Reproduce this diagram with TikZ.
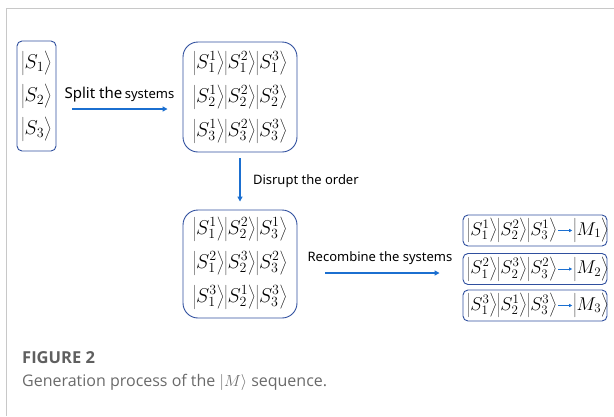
\documentclass[tikz,border=0pt]{standalone}
\usepackage{fix-cm}
\usepackage{fontspec}
\setmainfont{Noto Sans}
\newfontfamily\capfont{Open Sans}
\usetikzlibrary{arrows.meta}

\definecolor{boxblue}{HTML}{2F4F9E}
\definecolor{arrowblue}{HTML}{1B6FD0}
\definecolor{framegray}{HTML}{C8C8C8}
\definecolor{capgray}{HTML}{6A6A6A}

% ket with a fixed bracket height, set as an ordinary atom
\newcommand{\qket}[1]{{\left|\vphantom{S_1^1}#1\right\rangle}}

\tikzset{
  statebox/.style={draw=boxblue, line width=0.9pt, rounded corners=#1, inner sep=0pt},
  ketrow/.style={inner sep=0pt, font=\fontsize{20}{24}\selectfont},
  smallket/.style={inner sep=0pt, font=\fontsize{18.5}{22}\selectfont},
  flow/.style={arrowblue, line width=1.4pt, -{Triangle[length=5pt,width=5pt]}},
  inflow/.style={arrowblue, line width=0.6pt, -{Triangle[length=3pt,width=3pt]}},
  steplabel/.style={font=\fontsize{13}{15}\selectfont, text=black},
}

\begin{document}
\begin{tikzpicture}[x=1pt,y=-1pt]
\useasboundingbox (0,0) rectangle (614,416);
\draw[framegray, line width=1pt] (614,8) -- (6,8) -- (6,416);

% the three systems
\node[statebox=5pt, minimum width=39pt, minimum height=110pt] (A) at (36.5,96) {};
\foreach \i/\y in {1/63,2/96,3/129}
  \node[ketrow] (a\i) at (36.5,\y) {$\qket{S_{\i}}$};

% split into particles
\node[statebox=15pt, minimum width=114pt, minimum height=110pt] (B) at (240,97) {};
\foreach \i/\y in {1/63,2/97,3/131}
  \node[ketrow] (b\i) at (240,\y) {$\qket{S_{\i}^1}\qket{S_{\i}^2}\qket{S_{\i}^3}$};

% shuffled particles
\node[statebox=15pt, minimum width=114pt, minimum height=108pt] (C) at (240,264) {};
\foreach \i/\y/\p/\q/\r in {1/229/1/2/1, 2/263/2/3/2, 3/297/3/1/3}
  \node[ketrow] (c\i) at (240,\y) {$\qket{S_1^{\p}}\qket{S_2^{\q}}\qket{S_3^{\r}}$};

% recombined sequences
\foreach \i/\y/\p/\q/\r in {1/230.5/1/2/1, 2/269/2/3/2, 3/305.5/3/1/3}{
  \node[statebox=5pt, minimum width=144pt, minimum height=31pt] (R\i) at (535,\y) {};
  \node[smallket] (k\i) at (512,\y) {$\qket{S_1^{\p}}\qket{S_2^{\q}}\qket{S_3^{\r}}$};
  \node[smallket] (m\i) at (591,\y) {$\qket{M_{\i}}$};
  \draw[inflow, shorten <=1pt, shorten >=1pt] (k\i) -- (m\i);
}

\draw[flow, shorten <=16pt, shorten >=15pt] ([yshift=-13pt]A.east) -- ([yshift=-12pt]B.west)
  node[midway, above=3pt, text=black] {{\fontsize{15}{17}\selectfont Split the} {\fontsize{13}{15}\selectfont systems}};
\draw[flow, shorten <=6pt, shorten >=8pt] (B) -- (C)
  node[midway, right=9pt, steplabel] {Disrupt the order};
\draw[flow, shorten <=28pt, shorten >=23pt] ([yshift=-9pt]C.east) -- ([yshift=-4pt]R2.west)
  node[midway, above=4pt, steplabel] {Recombine the systems};

% caption
\node[anchor=base west, inner sep=0pt, font=\capfont\bfseries\fontsize{16.5}{18}\selectfont, text=capgray!90!black] (fig) at (22,363) {FIGURE 2};
\node[anchor=base west, inner sep=0pt, font=\capfont\fontsize{16}{19}\selectfont, text=capgray] (cap) at (22,386) {Generation process of the $|M\rangle$ sequence.};
\end{tikzpicture}
\end{document}
